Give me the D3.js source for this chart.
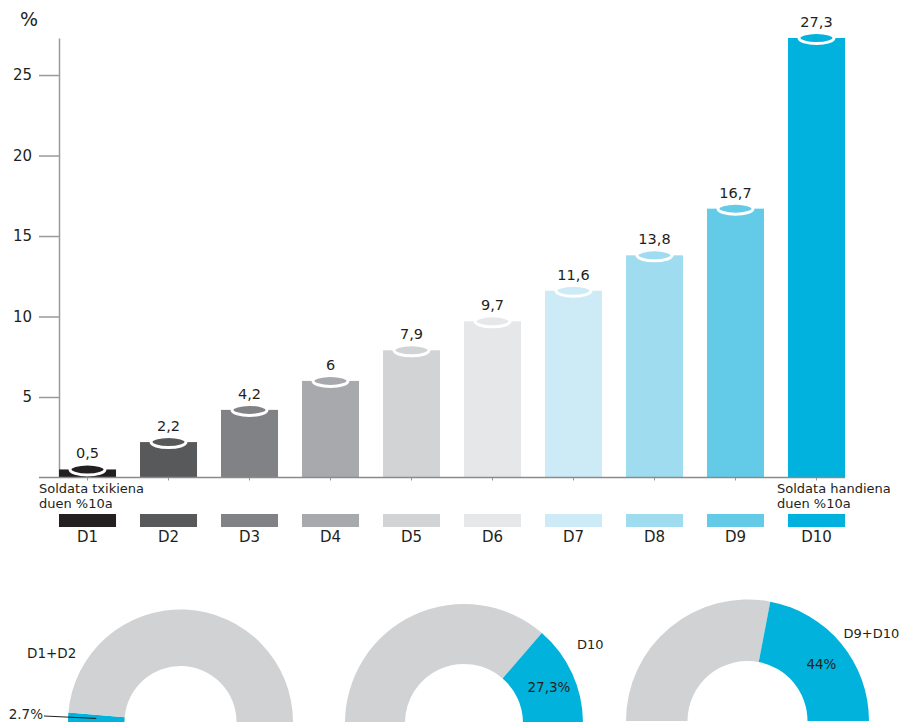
<!DOCTYPE html>
<html>
<head>
<meta charset="utf-8">
<script src="https://cdn.jsdelivr.net/npm/d3@7"></script>
<style>
  body { margin: 0; background: #fff; }
  svg text { font-family: "DejaVu Sans", sans-serif; fill: #231f20; }
</style>
</head>
<body>
<div id="chart"></div>
<script>
// data
var deciles = ["D1", "D2", "D3", "D4", "D5", "D6", "D7", "D8", "D9", "D10"];
var shares = [0.5, 2.2, 4.2, 6, 7.9, 9.7, 11.6, 13.8, 16.7, 27.3];
var shareLabels = ["0,5", "2,2", "4,2", "6", "7,9", "9,7", "11,6", "13,8", "16,7", "27,3"];
var yTicks = [5, 10, 15, 20, 25];
var barColors = ["#231f20", "#58595b", "#808285", "#a7a9ac", "#d1d3d4",
                 "#e6e7e8", "#cdebf6", "#9fdcef", "#63cbe8", "#00b2dd"];

var donutGroups = ["D1+D2", "D10", "D9+D10"];
var donutShares = [2.7, 27.3, 44];
var donutLabels = ["2.7%", "27,3%", "44%"];

var width = 902, height = 722;

var svg = d3.select("#chart").append("svg")
    .attr("width", width)
    .attr("height", height);

// scales
var x = d3.scaleBand()
    .domain(deciles)
    .range([59, 845])
    .paddingInner(0.296)
    .paddingOuter(0);

var y = d3.scaleLinear()
    .domain([0, 27.3])
    .range([477.5, 38]);

// y axis
var yAxis = svg.append("g")
    .attr("transform", "translate(59,0)")
    .call(d3.axisLeft(y).tickValues(yTicks).tickSize(20).tickSizeOuter(0).tickPadding(7));
yAxis.selectAll("path, line").attr("stroke", "#9a9a9a").attr("stroke-width", 1.5);
yAxis.selectAll("text")
    .style("font-size", "15px")
    .style("font-family", "DejaVu Sans, sans-serif")
    .attr("fill", "#231f20");

svg.append("text")
    .attr("x", 20).attr("y", 26)
    .style("font-size", "19px")
    .text("%");

// bars
svg.selectAll("rect.bar")
    .data(shares)
    .enter().append("rect")
    .attr("class", "bar")
    .attr("x", function(d, i) { return x(deciles[i]); })
    .attr("y", function(d) { return y(d); })
    .attr("width", x.bandwidth())
    .attr("height", function(d) { return y(0) - y(d); })
    .attr("fill", function(d, i) { return barColors[i]; });

// cylinder tops
svg.selectAll("ellipse.cap")
    .data(shares)
    .enter().append("ellipse")
    .attr("class", "cap")
    .attr("cx", function(d, i) { return x(deciles[i]) + x.bandwidth() / 2; })
    .attr("cy", function(d) { return y(d); })
    .attr("rx", 17.5)
    .attr("ry", 5.5)
    .attr("fill", function(d, i) { return barColors[i]; })
    .attr("stroke", "#fff")
    .attr("stroke-width", 3);

svg.selectAll("text.val")
    .data(shares)
    .enter().append("text")
    .attr("class", "val")
    .attr("x", function(d, i) { return x(deciles[i]) + x.bandwidth() / 2; })
    .attr("y", function(d) { return y(d) - 11; })
    .attr("text-anchor", "middle")
    .style("font-size", "14.5px")
    .text(function(d, i) { return shareLabels[i]; });

// x axis baseline
var xAxis = svg.append("g")
    .attr("transform", "translate(0," + y(0) + ")")
    .call(d3.axisBottom(x).tickSize(3).tickFormat(""));
xAxis.select(".domain").remove();
xAxis.selectAll("line").attr("stroke", "#9a9a9a");
xAxis.append("line")
    .attr("x1", 39).attr("x2", 845)
    .attr("stroke", "#8a8a8a").attr("stroke-width", 1.5);

// side notes
svg.append("text").attr("x", 39).attr("y", 492.5).style("font-size", "13px").text("Soldata txikiena");
svg.append("text").attr("x", 39).attr("y", 507.5).style("font-size", "13px").text("duen %10a");
svg.append("text").attr("x", 777).attr("y", 492.5).style("font-size", "13px").text("Soldata handiena");
svg.append("text").attr("x", 777).attr("y", 507.5).style("font-size", "13px").text("duen %10a");

// legend
svg.selectAll("rect.key")
    .data(deciles)
    .enter().append("rect")
    .attr("class", "key")
    .attr("x", function(d) { return x(d); })
    .attr("y", 514)
    .attr("width", x.bandwidth())
    .attr("height", 13)
    .attr("fill", function(d, i) { return barColors[i]; });

svg.selectAll("text.key")
    .data(deciles)
    .enter().append("text")
    .attr("class", "key")
    .attr("x", function(d) { return x(d) + x.bandwidth() / 2; })
    .attr("y", 542)
    .attr("text-anchor", "middle")
    .style("font-size", "15px")
    .text(function(d) { return d; });

// donuts
var donutPos = [
    { cx: 180.5, cy: 722, R: 112.5, r: 56, blueFirst: true },
    { cx: 464, cy: 723, R: 119, r: 59, blueFirst: false },
    { cx: 747.5, cy: 721, R: 121.5, r: 60, blueFirst: false }
];

var pie = d3.pie().sort(null).startAngle(-Math.PI / 2).endAngle(Math.PI / 2);

donutShares.forEach(function(v, k) {
    var p = donutPos[k];
    var vals = p.blueFirst ? [v, 100 - v] : [100 - v, v];
    var cols = p.blueFirst ? ["#00b2dc", "#d1d2d4"] : ["#d1d2d4", "#00b2dc"];
    var arc = d3.arc().innerRadius(p.r).outerRadius(p.R);
    var g = svg.append("g").attr("transform", "translate(" + p.cx + "," + p.cy + ")");
    var arcs = pie(vals);
    g.selectAll("path")
        .data(arcs)
        .enter().append("path")
        .attr("d", arc)
        .attr("fill", function(d, i) { return cols[i]; });

    var blue = p.blueFirst ? arcs[0] : arcs[1];
    var c = arc.centroid(blue);
    if (k === 0) {
        g.append("line")
            .attr("x1", -136.5).attr("y1", -6)
            .attr("x2", c[0]).attr("y2", c[1])
            .attr("stroke", "#231f20").attr("stroke-width", 1);
        g.append("text")
            .attr("x", -137.5).attr("y", -3)
            .attr("text-anchor", "end")
            .style("font-size", "13.5px")
            .text(donutLabels[k]);
        g.append("text")
            .attr("x", -153.5).attr("y", -64)
            .style("font-size", "13.5px")
            .text(donutGroups[k]);
    } else {
        g.append("text")
            .attr("x", c[0] + 4).attr("y", c[1] + 6)
            .attr("text-anchor", "middle")
            .style("font-size", "13.5px")
            .text(donutLabels[k]);
        g.append("text")
            .attr("x", k === 1 ? 113 : 96)
            .attr("y", k === 1 ? -74 : -83)
            .style("font-size", "13px")
            .text(donutGroups[k]);
    }
});
</script>
</body>
</html>
